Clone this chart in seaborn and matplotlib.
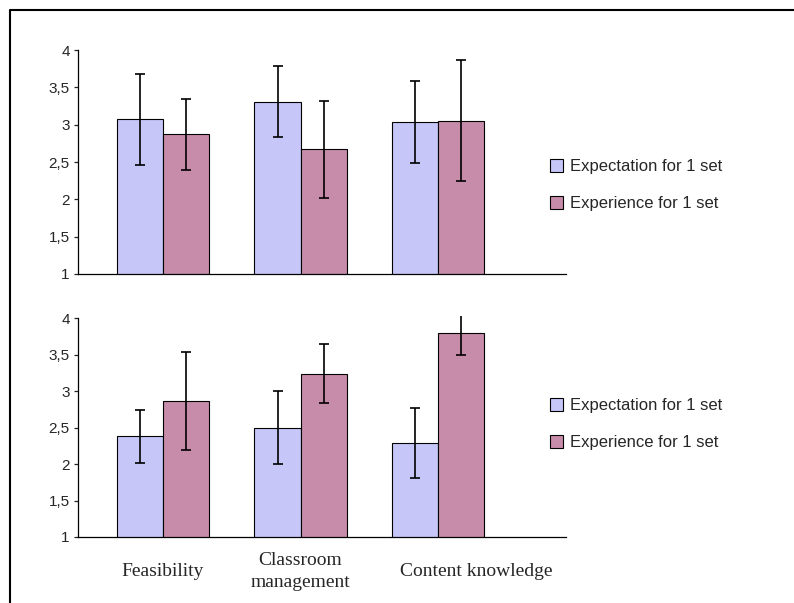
import matplotlib
matplotlib.use("Agg")
import matplotlib.pyplot as plt
import matplotlib.transforms as mtransforms
from matplotlib.lines import Line2D
from matplotlib.patches import Patch
from matplotlib.ticker import FuncFormatter, MultipleLocator
import pandas as pd
import seaborn as sns

# Categories and series
categories = ["Feasibility", "Classroom\nmanagement", "Content knowledge"]
series = ["Expectation for 1 set", "Experience for 1 set"]

# Top panel (means and error half-widths)
top_expect = [3.07, 3.31, 3.04]
top_expect_err = [0.61, 0.48, 0.55]
top_exper = [2.87, 2.67, 3.05]
top_exper_err = [0.475, 0.65, 0.81]

# Bottom panel
bot_expect = [2.38, 2.50, 2.29]
bot_expect_err = [0.36, 0.50, 0.485]
bot_exper = [2.86, 3.24, 3.80]
bot_exper_err = [0.67, 0.40, 0.30]

colors = ["#C6C6F8", "#C68CAA"]

sns.set_style("white")
plt.rcParams["font.family"] = ["Liberation Sans", "DejaVu Sans"]

fig = plt.figure(figsize=(7.94, 6.03), dpi=100)
W, H = 794, 603


def make_df(expect, exper):
    return pd.DataFrame({
        "category": categories * 2,
        "series": [series[0]] * 3 + [series[1]] * 3,
        "value": list(expect) + list(exper),
    })


def draw_panel(rect, expect, expect_err, exper, exper_err, ytop, show_x):
    ax = fig.add_axes(rect)
    df = make_df(expect, exper)
    sns.barplot(data=df, x="category", y="value", hue="series",
                order=categories, hue_order=series, palette=colors,
                saturation=1, width=0.67, gap=0, edgecolor="black",
                linewidth=0.8, errorbar=None, legend=False, ax=ax)
    errs = [expect_err, exper_err]
    for cont, err in zip(ax.containers, errs):
        xs = [b.get_x() + b.get_width() / 2 for b in cont]
        ys = [b.get_height() for b in cont]
        ax.errorbar(xs, ys, yerr=err, fmt="none", ecolor="black",
                    elinewidth=1.2, capsize=3.8, capthick=1.2, zorder=5)
    ax.set_ylim(1, ytop)
    ax.set_xlim(-0.618, 2.93)
    ax.yaxis.set_major_locator(MultipleLocator(0.5))
    ax.yaxis.set_major_formatter(FuncFormatter(lambda v, p: f"{v:g}".replace(".", ",")))
    for s in ["top", "right"]:
        ax.spines[s].set_visible(False)
    ax.spines["left"].set_bounds(1, 4)
    for s in ["left", "bottom"]:
        ax.spines[s].set_linewidth(0.9)
        ax.spines[s].set_color("black")
    ax.tick_params(axis="y", left=True, direction="out", length=3, width=0.9,
                   labelsize=11, pad=3)
    ax.tick_params(axis="x", bottom=False, length=0)
    ax.set_xlabel("")
    ax.set_ylabel("")
    if show_x:
        ax.tick_params(axis="x", pad=25)
        for lbl in ax.get_xticklabels():
            lbl.set_fontfamily(["Liberation Serif", "DejaVu Serif"])
            lbl.set_fontsize(14)
            lbl.set_va("center")
            lbl.set_linespacing(1.4)
        last = ax.get_xticklabels()[-1]
        last.set_transform(last.get_transform() +
                           mtransforms.ScaledTranslation(0.38, 0, fig.dpi_scale_trans))
    else:
        ax.set_xticklabels([])
    return ax


# Top panel: y 1..4 from px 274 to 50
draw_panel([78 / W, 1 - 274 / H, 488 / W, 224 / H],
           top_expect, top_expect_err, top_exper, top_exper_err, 4.0, False)
# Bottom panel: y 1..4.03 from px 537 to ~316
draw_panel([78 / W, 1 - 537 / H, 488 / W, 221 / H],
           bot_expect, bot_expect_err, bot_exper, bot_exper_err, 4.03, True)

handles = [Patch(facecolor=c, edgecolor="black", linewidth=0.8) for c in colors]
for yc in [185, 424]:
    fig.legend(handles, series, loc="center left",
               bbox_to_anchor=(543 / W, 1 - yc / H), frameon=False,
               fontsize=12, handlelength=0.8, handleheight=0.8,
               handletextpad=0.45, labelspacing=1.3, borderaxespad=0)

# Frame lines (top and left edges)
fig.add_artist(Line2D([10 / W, 10 / W, 1.0], [0.0, 1 - 10 / H, 1 - 10 / H],
                      transform=fig.transFigure, color="black", linewidth=1.5))

fig.savefig("out.png", dpi=100)
